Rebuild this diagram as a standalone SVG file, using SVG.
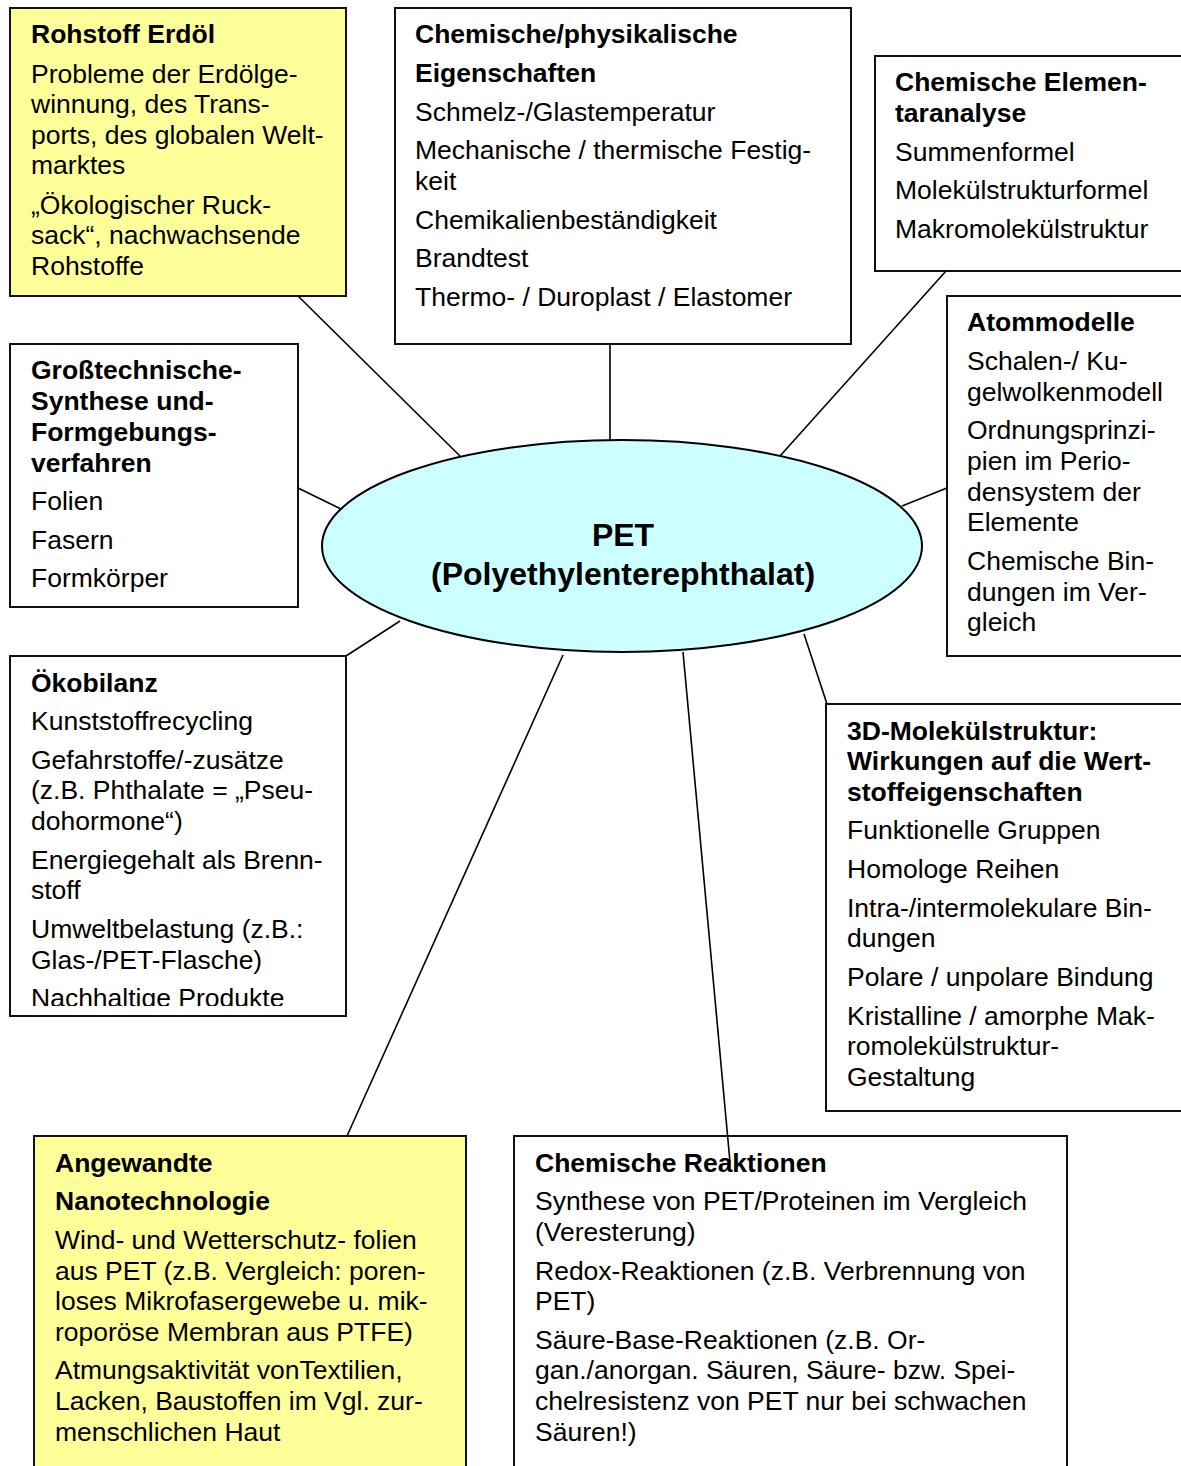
<svg xmlns="http://www.w3.org/2000/svg" width="1181" height="1466" viewBox="0 0 1181 1466">
<style>
.box{fill:#fff;stroke:#111;stroke-width:2}
.yel{fill:#ffff99}
.t{font-family:"Liberation Sans",Arial,sans-serif;font-size:26.5px;fill:#000}
.b{font-weight:bold}
.c{stroke:#000;stroke-width:1.6;fill:none}
.ell{fill:#ccffff;stroke:#000;stroke-width:2}
.h{font-family:"Liberation Sans",Arial,sans-serif;font-size:32px;font-weight:bold;fill:#000;text-anchor:middle}
</style>
<defs>
<clipPath id="clip6"><rect x="10" y="656" width="336" height="350"/></clipPath>
</defs>
<rect width="1181" height="1466" fill="#fff"/>

<g id="n-rohstoff">
<rect class="box yel" x="10" y="8" width="336" height="288"/>
<text class="t b" x="31" y="43">Rohstoff Erdöl</text>
<text class="t" x="31" y="82.5">Probleme der Erdölge-</text>
<text class="t" x="31" y="113">winnung, des Trans-</text>
<text class="t" x="31" y="143.5">ports, des globalen Welt-</text>
<text class="t" x="31" y="174">marktes</text>
<text class="t" x="31" y="213.5">„Ökologischer Ruck-</text>
<text class="t" x="31" y="244">sack“, nachwachsende</text>
<text class="t" x="31" y="274.5">Rohstoffe</text>
</g>

<g id="n-eigenschaften">
<rect class="box" x="395" y="8" width="456" height="336"/>
<text class="t b" x="415" y="43">Chemische/physikalische</text>
<text class="t b" x="415" y="82">Eigenschaften</text>
<text class="t" x="415" y="121">Schmelz-/Glastemperatur</text>
<text class="t" x="415" y="159">Mechanische / thermische Festig-</text>
<text class="t" x="415" y="190">keit</text>
<text class="t" x="415" y="229">Chemikalienbeständigkeit</text>
<text class="t" x="415" y="267">Brandtest</text>
<text class="t" x="415" y="306">Thermo- / Duroplast / Elastomer</text>
</g>

<g id="n-elementaranalyse">
<rect class="box" x="875" y="56" width="330" height="215"/>
<text class="t b" x="895" y="91">Chemische Elemen-</text>
<text class="t b" x="895" y="122">taranalyse</text>
<text class="t" x="895" y="161">Summenformel</text>
<text class="t" x="895" y="199">Molekülstrukturformel</text>
<text class="t" x="895" y="238">Makromolekülstruktur</text>
</g>

<g id="n-atommodelle">
<rect class="box" x="947" y="296" width="260" height="360"/>
<text class="t b" x="967" y="331">Atommodelle</text>
<text class="t" x="967" y="370">Schalen-/ Ku-</text>
<text class="t" x="967" y="401">gelwolkenmodell</text>
<text class="t" x="967" y="439">Ordnungsprinzi-</text>
<text class="t" x="967" y="470">pien im Perio-</text>
<text class="t" x="967" y="501">densystem der</text>
<text class="t" x="967" y="531">Elemente</text>
<text class="t" x="967" y="570">Chemische Bin-</text>
<text class="t" x="967" y="601">dungen im Ver-</text>
<text class="t" x="967" y="631">gleich</text>
</g>

<g id="n-synthese">
<rect class="box" x="10" y="344" width="288" height="263"/>
<text class="t b" x="31" y="379">Großtechnische-</text>
<text class="t b" x="31" y="410">Synthese und-</text>
<text class="t b" x="31" y="441">Formgebungs-</text>
<text class="t b" x="31" y="472">verfahren</text>
<text class="t" x="31" y="510">Folien</text>
<text class="t" x="31" y="549">Fasern</text>
<text class="t" x="31" y="587">Formkörper</text>
</g>

<g id="n-oekobilanz">
<rect class="box" x="10" y="656" width="336" height="360"/>
<g clip-path="url(#clip6)">
<text class="t b" x="31" y="692">Ökobilanz</text>
<text class="t" x="31" y="730">Kunststoffrecycling</text>
<text class="t" x="31" y="769">Gefahrstoffe/-zusätze</text>
<text class="t" x="31" y="799">(z.B. Phthalate = „Pseu-</text>
<text class="t" x="31" y="830">dohormone“)</text>
<text class="t" x="31" y="869">Energiegehalt als Brenn-</text>
<text class="t" x="31" y="899">stoff</text>
<text class="t" x="31" y="938">Umweltbelastung (z.B.:</text>
<text class="t" x="31" y="969">Glas-/PET-Flasche)</text>
<text class="t" x="31" y="1007">Nachhaltige Produkte</text>
</g>
</g>

<g id="n-3d">
<rect class="box" x="826" y="704" width="380" height="407"/>
<text class="t b" x="847" y="740">3D-Molekülstruktur:</text>
<text class="t b" x="847" y="770">Wirkungen auf die Wert-</text>
<text class="t b" x="847" y="801">stoffeigenschaften</text>
<text class="t" x="847" y="839">Funktionelle Gruppen</text>
<text class="t" x="847" y="878">Homologe Reihen</text>
<text class="t" x="847" y="917">Intra-/intermolekulare Bin-</text>
<text class="t" x="847" y="947">dungen</text>
<text class="t" x="847" y="986">Polare / unpolare Bindung</text>
<text class="t" x="847" y="1025">Kristalline / amorphe Mak-</text>
<text class="t" x="847" y="1055">romolekülstruktur-</text>
<text class="t" x="847" y="1086">Gestaltung</text>
</g>

<g id="n-nano">
<rect class="box yel" x="34" y="1136" width="432" height="350"/>
<text class="t b" x="55" y="1172">Angewandte</text>
<text class="t b" x="55" y="1210">Nanotechnologie</text>
<text class="t" x="55" y="1249">Wind- und Wetterschutz- folien</text>
<text class="t" x="55" y="1280">aus PET (z.B. Vergleich: poren-</text>
<text class="t" x="55" y="1310">loses Mikrofasergewebe u. mik-</text>
<text class="t" x="55" y="1341">roporöse Membran aus PTFE)</text>
<text class="t" x="55" y="1379">Atmungsaktivität vonTextilien,</text>
<text class="t" x="55" y="1410">Lacken, Baustoffen im Vgl. zur-</text>
<text class="t" x="55" y="1441">menschlichen Haut</text>
</g>

<g id="n-reaktionen">
<rect class="box" x="514" y="1136" width="553" height="350"/>
<text class="t b" x="535" y="1172">Chemische Reaktionen</text>
<text class="t" x="535" y="1210">Synthese von PET/Proteinen im Vergleich</text>
<text class="t" x="535" y="1241">(Veresterung)</text>
<text class="t" x="535" y="1280">Redox-Reaktionen (z.B. Verbrennung von</text>
<text class="t" x="535" y="1310">PET)</text>
<text class="t" x="535" y="1349">Säure-Base-Reaktionen (z.B. Or-</text>
<text class="t" x="535" y="1379">gan./anorgan. Säuren, Säure- bzw. Spei-</text>
<text class="t" x="535" y="1410">chelresistenz von PET nur bei schwachen</text>
<text class="t" x="535" y="1441">Säuren!)</text>
</g>

<g id="connectors">
<line class="c" x1="298" y1="296" x2="460" y2="456"/>
<line class="c" x1="610" y1="344" x2="610" y2="442"/>
<line class="c" x1="946" y1="271" x2="780" y2="456"/>
<line class="c" x1="947" y1="488" x2="902" y2="506"/>
<line class="c" x1="298" y1="488" x2="343" y2="510"/>
<line class="c" x1="346" y1="656" x2="400" y2="621"/>
<line class="c" x1="804" y1="634" x2="827" y2="704"/>
<line class="c" x1="563" y1="655" x2="347" y2="1136"/>
<line class="c" x1="683" y1="652" x2="730" y2="1162"/>
</g>

<g id="n-pet">
<ellipse class="ell" cx="622" cy="546" rx="300" ry="106"/>
<text class="h" x="623" y="546">PET</text>
<text class="h" x="623" y="585">(Polyethylenterephthalat)</text>
</g>
</svg>
